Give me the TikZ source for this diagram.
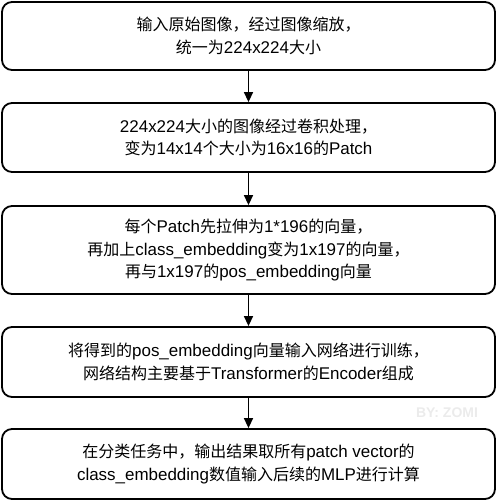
\documentclass[tikz,border=0pt]{standalone}
\usepackage{fontspec}
\setmainfont{Noto Sans CJK SC}
\newfontfamily\latfont[Scale=1.06]{Liberation Sans}
\newfontfamily\wmfont{Liberation Sans}
\newcommand{\en}[1]{{\latfont #1}}
\usetikzlibrary{arrows.meta}
\begin{document}
\begin{tikzpicture}[x=1pt,y=-1pt,
  stepbox/.style={draw=black,line width=1.8pt,rounded corners=10pt,fill=white,
    minimum width=493pt,inner sep=0pt,align=center,
    font=\fontsize{16}{22.5}\selectfont,text=black},
  flow/.style={line width=1.5pt,-{Triangle[width=9pt,length=10pt]}}]
\useasboundingbox (0,0) rectangle (498,502);
\node[stepbox,minimum height=68pt] (b1) at (248.5,36) {输入原始图像，经过图像缩放，\\统一为\en{224x224}大小};
\node[stepbox,minimum height=69pt] (b2) at (248.5,137.5) {\en{224x224}大小的图像经过卷积处理，\\变为\en{14x14}个大小为\en{16x16}的\en{Patch}};
\node[stepbox,minimum height=88pt] (b3) at (248.5,250) {每个\en{Patch}先拉伸为\en{1*196}的向量，\\再加上\en{class\_embedding}变为\en{1x197}的向量，\\再与\en{1x197}的\en{pos\_embedding}向量};
\node[stepbox,minimum height=70pt] (b4) at (248.5,362) {将得到的\en{pos\_embedding}向量输入网络进行训练，\\网络结构主要基于\en{Transformer}的\en{Encoder}组成};
\node[stepbox,minimum height=70pt] (b5) at (248.5,464) {在分类任务中，输出结果取所有\en{patch vector}的\\\en{class\_embedding}数值输入后续的\en{MLP}进行计算};
\node[text=black!8,font=\wmfont\bfseries\fontsize{14}{16}\selectfont,inner sep=0pt] (wm) at (447,413) {BY: ZOMI};
\draw[flow] (b1) -- (b2);
\draw[flow] (b2) -- (b3);
\draw[flow] (b3) -- (b4);
\draw[flow] (b4) -- (b5);
\end{tikzpicture}
\end{document}
